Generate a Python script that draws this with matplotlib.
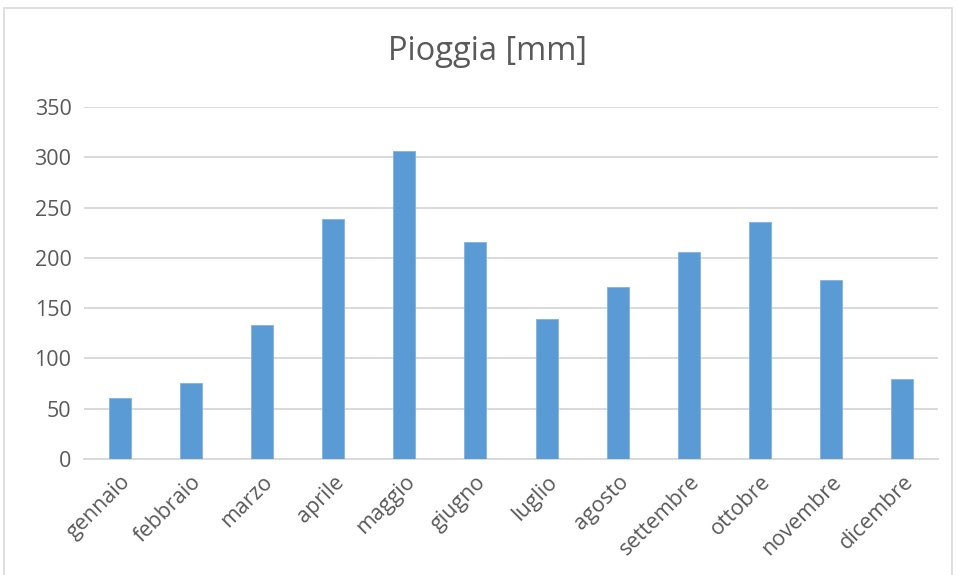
import matplotlib
matplotlib.use("Agg")
import matplotlib.pyplot as plt
from matplotlib.patches import Rectangle

# Monthly rainfall
mesi = ["gennaio", "febbraio", "marzo", "aprile", "maggio", "giugno",
        "luglio", "agosto", "settembre", "ottobre", "novembre", "dicembre"]
pioggia = [61, 76, 133, 239, 306, 216, 139, 171, 206, 236, 178, 80]
y_ticks = [0, 50, 100, 150, 200, 250, 300, 350]

TEXT = "#595959"
GRID = "#D9D9D9"
BAR = "#5B9BD5"

plt.rcParams["font.family"] = ["Open Sans", "DejaVu Sans"]

fig = plt.figure(figsize=(9.56, 5.75), dpi=100, facecolor="white")

# light frame around the chart area
fig.patches.append(Rectangle((4 / 956, -0.01), 948 / 956, 1 - 8 / 575 + 0.01,
                             transform=fig.transFigure, fill=False,
                             edgecolor=GRID, lw=1.2))

ax = fig.add_axes([84 / 956, 1 - 459 / 575, (938 - 84) / 956, (459 - 107) / 575])
x = range(len(mesi))
ax.bar(x, pioggia, width=0.31, color=BAR, edgecolor="#7FB2E0", linewidth=0.6, zorder=3)

ax.set_xlim(-0.5, len(mesi) - 0.5)
ax.set_ylim(0, 350)
ax.set_yticks(y_ticks)
ax.yaxis.grid(True, color=GRID, lw=1.4, zorder=0)
ax.set_axisbelow(True)
for s in ["top", "right", "left"]:
    ax.spines[s].set_visible(False)
ax.spines["bottom"].set_color(GRID)
ax.spines["bottom"].set_linewidth(1.4)

ax.set_xticks(list(x))
ax.set_xticklabels(mesi, rotation=45, ha="right", rotation_mode="anchor")
ax.tick_params(axis="both", length=0, labelsize=15.5, colors=TEXT)
ax.tick_params(axis="x", pad=9)
ax.tick_params(axis="y", pad=9)

fig.text(487 / 956, 1 - 52 / 575, "Pioggia [mm]", ha="center", va="center",
         fontsize=23.5, color=TEXT)

fig.savefig("out.png", dpi=100, facecolor="white")
